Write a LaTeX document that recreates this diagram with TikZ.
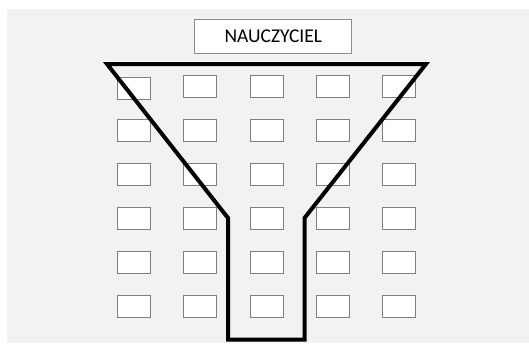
\documentclass[tikz,border=0pt]{standalone}
\usepackage{fontspec}
\setmainfont{Carlito}
\definecolor{bgcol}{HTML}{F2F2F2}
\definecolor{deskline}{HTML}{7F7F7F}
\definecolor{boxline}{HTML}{8C8C8C}
\begin{document}
\begin{tikzpicture}[x=1pt,y=-1pt,
  desk/.style={draw=deskline, fill=white, line width=1pt, minimum width=33pt, minimum height=22pt, inner sep=0pt, outer sep=0pt},
  teacher/.style={draw=boxline, fill=white, line width=1pt, minimum width=157pt, minimum height=34pt, inner sep=0pt, font=\fontsize{19.5}{21}\selectfont},
  funnel/.style={draw=black, line width=4pt, line join=miter}]
\useasboundingbox (0,0) rectangle (529,343);
\fill[white] (0,0) rectangle (529,343);
\fill[bgcol] (7,9) rectangle (529,343);
\node[teacher] (t) at (273.3,36.3) {NAUCZYCIEL};
\foreach \c [count=\i] in {134,200.3,266.7,333,399}{
  \foreach \r [count=\j] in {86,130.3,174.3,218.5,262.5,306.8}{
    \ifnum\i=1 \ifnum\j=1
      \node[desk] (d\i\j) at (\c,88.3) {};
    \else
      \node[desk] (d\i\j) at (\c,\r) {};
    \fi\else
      \node[desk] (d\i\j) at (\c,\r) {};
    \fi
  }
}
\coordinate (f1) at (107,64);
\coordinate (f2) at (426,64);
\coordinate (f3) at (304.5,218);
\coordinate (f4) at (304.5,339.5);
\coordinate (f5) at (228,339.5);
\coordinate (f6) at (228,218);
\draw[funnel] (f1) -- (f2) -- (f3) -- (f4) -- (f5) -- (f6) -- cycle;
\end{tikzpicture}
\end{document}
